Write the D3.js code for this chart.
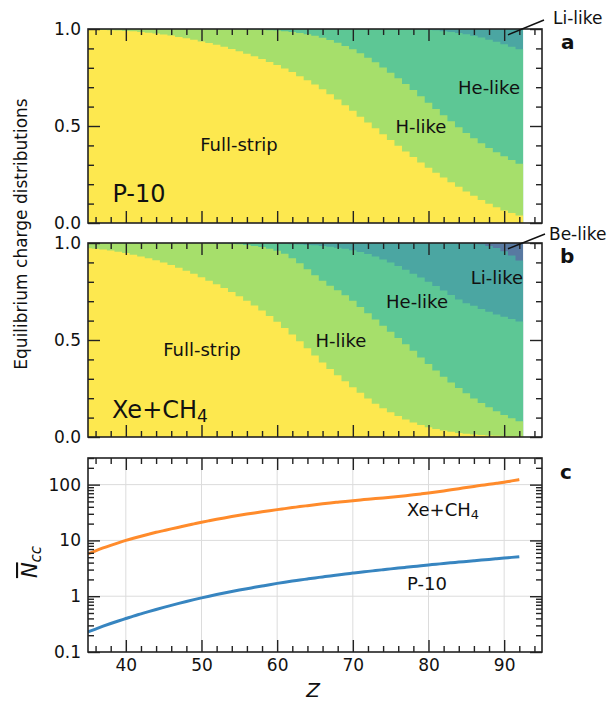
<!DOCTYPE html>
<html><head><meta charset="utf-8">
<script src="https://cdn.jsdelivr.net/npm/d3@7"></script>
<style>
body{margin:0;background:#fff}
text{font-family:"DejaVu Sans",sans-serif;fill:#111}
</style>
</head><body>
<svg id="chart" width="614" height="705"></svg>
<script>
// ---------------- DATA ----------------
const zValues = [35,36,37,38,39,40,41,42,43,44,45,46,47,48,49,50,51,52,53,54,55,56,57,58,59,60,61,62,63,64,65,66,67,68,69,70,71,72,73,74,75,76,77,78,79,80,81,82,83,84,85,86,87,88,89,90,91,92];

// Panel a (P-10): cumulative fractions (upper edge of each charge-state band)
const p10CumFullStrip = [.997,.996,.995,.994,.992,.990,.988,.985,.981,.977,.972,.966,.959,.952,.944,.935,.928,.919,.908,.897,.885,.872,.859,.845,.830,.814,.797,.778,.757,.736,.714,.690,.664,.636,.607,.578,.548,.518,.488,.458,.428,.398,.369,.340,.312,.285,.259,.234,.210,.187,.163,.140,.119,.099,.081,.065,.051,.039];
const p10CumHlike = [1,1,1,1,1,1,1,1,1,1,1,1,1,1,1,1,.999,.999,.999,.999,.999,.998,.997,.996,.994,.992,.989,.985,.980,.973,.965,.955,.943,.929,.913,.895,.875,.852,.828,.802,.775,.746,.716,.685,.653,.620,.588,.556,.524,.493,.464,.437,.411,.387,.365,.344,.325,.305];
const p10CumHelike = [1,1,1,1,1,1,1,1,1,1,1,1,1,1,1,1,1,1,1,1,1,1,1,1,1,1,1,1,1,1,1,1,1,1,1,1,1,1,1,1,1,.999,.999,.998,.997,.995,.993,.989,.985,.979,.973,.965,.956,.945,.934,.922,.909,.895];

// Panel b (Xe+CH4)
const xeCumFullStrip = [.973,.970,.966,.961,.955,.948,.940,.931,.922,.911,.899,.886,.872,.857,.841,.823,.806,.788,.768,.747,.725,.702,.678,.652,.624,.594,.562,.528,.493,.457,.420,.384,.350,.318,.287,.257,.228,.199,.172,.148,.127,.108,.090,.075,.062,.050,.041,.033,.027,.021,.017,.013,.010,.008,.006,.005,.004,.003];
const xeCumHlike = [1,1,1,1,1,1,1,1,1,1,1,1,1,1,1,1,.999,.998,.997,.995,.993,.990,.985,.979,.971,.960,.945,.922,.895,.865,.834,.806,.780,.757,.731,.702,.670,.638,.606,.574,.542,.510,.478,.444,.410,.376,.343,.311,.281,.252,.225,.199,.175,.153,.133,.114,.097,.081];
const xeCumHelike = [1,1,1,1,1,1,1,1,1,1,1,1,1,1,1,1,1,1,1,1,1,1,1,1,.999,.998,.996,.994,.992,.990,.988,.985,.981,.976,.970,.963,.954,.943,.930,.915,.899,.881,.862,.842,.822,.800,.778,.755,.732,.709,.690,.676,.660,.645,.632,.620,.608,.596];
const xeCumLilike = [1,1,1,1,1,1,1,1,1,1,1,1,1,1,1,1,1,1,1,1,1,1,1,1,1,1,1,1,1,1,1,1,1,1,1,1,1,1,1,1,1,1,1,1,1,1,1,1,1,1,.999,.997,.993,.985,.974,.958,.935,.910];

// Panel c: mean number of charge-changing collisions
const nccP10 = [.229,.258,.290,.324,.360,.398,.440,.483,.530,.579,.631,.685,.743,.804,.867,.933,1.000,1.069,1.140,1.213,1.288,1.365,1.442,1.524,1.611,1.698,1.782,1.866,1.950,2.037,2.128,2.218,2.312,2.404,2.500,2.594,2.692,2.786,2.884,2.985,3.090,3.192,3.296,3.404,3.516,3.631,3.741,3.855,3.972,4.093,4.207,4.325,4.446,4.571,4.699,4.831,4.966,5.105];
const nccXe = [5.73,6.52,7.33,8.17,9.06,10.0,10.94,11.91,12.91,13.96,15.0,16.11,17.26,18.49,19.77,21.13,22.49,23.88,25.29,26.73,28.18,29.65,31.12,32.58,34.12,35.65,37.15,38.73,40.36,41.98,43.65,45.29,46.88,48.42,50.0,51.64,53.21,54.70,56.23,57.81,59.57,61.38,63.39,65.61,68.08,70.79,73.79,77.09,80.72,84.53,88.72,92.90,97.05,101.4,105.9,110.7,116.7,123.3];

// Ticks
const xMajorTicks = [40,50,60,70,80,90];
const xMinorTicks = [36,38,42,44,46,48,52,54,56,58,62,64,66,68,72,74,76,78,82,84,86,88,92,94];
const fracMajorTicks = [0,0.5,1];
const fracTickLabels = ["0.0","0.5","1.0"];
const fracMinorTicks = [0.1,0.2,0.3,0.4,0.6,0.7,0.8,0.9];
const logMajorTicks = [0.1,1,10,100];
const logTickLabels = ["0.1","1","10","100"];
const logMinorTicks = [0.2,0.3,0.4,0.5,0.6,0.7,0.8,0.9,2,3,4,5,6,7,8,9,20,30,40,50,60,70,80,90,200,300];

const colors = {full:"#fde84f", h:"#a6df6b", he:"#5dc795", li:"#4ba6a2", be:"#5879a1"};

// ---------------- DRAW ----------------
const svg = d3.select("#chart");
const L = 88, R = 542;
const x = d3.scaleLinear().domain([35,95]).range([L,R]);

function stepPoints(vals){
  return zValues.flatMap((z,i)=>[{z:z-0.5,v:vals[i]},{z:z+0.5,v:vals[i]}]);
}

function frame(g, y, top, bottom, yMajor, yLabels, yMinor, showXLabels){
  g.append("g").attr("transform",`translate(0,${bottom})`)
    .call(d3.axisBottom(x).tickValues(xMajorTicks).tickSize(-12).tickPadding(7)
      .tickFormat(showXLabels ? d3.format("d") : ""));
  g.append("g").attr("transform",`translate(0,${bottom})`)
    .call(d3.axisBottom(x).tickValues(xMinorTicks).tickSize(-6).tickFormat(""));
  g.append("g").attr("transform",`translate(0,${top})`)
    .call(d3.axisTop(x).tickValues(xMajorTicks).tickSize(-12).tickFormat(""));
  g.append("g").attr("transform",`translate(0,${top})`)
    .call(d3.axisTop(x).tickValues(xMinorTicks).tickSize(-6).tickFormat(""));
  g.append("g").attr("transform",`translate(${L},0)`)
    .call(d3.axisLeft(y).tickValues(yMajor).tickSize(-12).tickPadding(7)
      .tickFormat((d,i)=>yLabels[i]));
  g.append("g").attr("transform",`translate(${L},0)`)
    .call(d3.axisLeft(y).tickValues(yMinor).tickSize(-6).tickFormat(""));
  g.append("g").attr("transform",`translate(${R},0)`)
    .call(d3.axisRight(y).tickValues(yMajor).tickSize(-12).tickFormat(""));
  g.append("g").attr("transform",`translate(${R},0)`)
    .call(d3.axisRight(y).tickValues(yMinor).tickSize(-6).tickFormat(""));
  g.selectAll(".domain").remove();
  g.selectAll(".tick line").attr("stroke","#222").attr("stroke-width",1.4);
  g.selectAll(".tick text").attr("font-size",17).attr("fill","#111")
    .style("font-family",'"DejaVu Sans",sans-serif');
  g.append("rect").attr("x",L).attr("y",top).attr("width",R-L).attr("height",bottom-top)
    .attr("fill","none").attr("stroke","#222").attr("stroke-width",1.6);
}

function stackPanel(top, bottom, layers, id){
  const y = d3.scaleLinear().domain([0,1]).range([bottom,top]);
  const g = svg.append("g");
  g.append("clipPath").attr("id",id).append("rect")
    .attr("x",L).attr("y",top).attr("width",R-L).attr("height",bottom-top);
  const area = d3.area().x(d=>x(d.z)).y0(y(0)).y1(d=>y(d.v));
  const cg = g.append("g").attr("clip-path",`url(#${id})`);
  layers.forEach(l=>{
    cg.append("path").datum(stepPoints(l.vals)).attr("d",area).attr("fill",l.color);
  });
  frame(g, y, top, bottom, fracMajorTicks, fracTickLabels, fracMinorTicks, false);
  return {g,y};
}

const ones = zValues.map(()=>1);
const pa = stackPanel(29, 223, [
  {vals:ones, color:colors.li},
  {vals:p10CumHelike, color:colors.he},
  {vals:p10CumHlike, color:colors.h},
  {vals:p10CumFullStrip, color:colors.full}
], "clipA");
const pb = stackPanel(243, 437, [
  {vals:ones, color:colors.be},
  {vals:xeCumLilike, color:colors.li},
  {vals:xeCumHelike, color:colors.he},
  {vals:xeCumHlike, color:colors.h},
  {vals:xeCumFullStrip, color:colors.full}
], "clipB");

// Panel c
const cTop = 458, cBottom = 652;
const yc = d3.scaleLog().domain([0.1,300]).range([cBottom,cTop]);
const gc = svg.append("g");
gc.append("g").selectAll("line").data(xMajorTicks).join("line")
  .attr("x1",d=>x(d)).attr("x2",d=>x(d)).attr("y1",cTop).attr("y2",cBottom)
  .attr("stroke","#dcdcdc").attr("stroke-width",1);
gc.append("g").selectAll("line").data(logMajorTicks.slice(1)).join("line")
  .attr("x1",L).attr("x2",R).attr("y1",d=>yc(d)).attr("y2",d=>yc(d))
  .attr("stroke","#dcdcdc").attr("stroke-width",1);
gc.append("clipPath").attr("id","clipC").append("rect")
  .attr("x",L).attr("y",cTop).attr("width",R-L).attr("height",cBottom-cTop);
const line = d3.line().x((d,i)=>x(zValues[i])).y(d=>yc(d)).curve(d3.curveMonotoneX);
const lg = gc.append("g").attr("clip-path","url(#clipC)");
lg.append("path").datum(nccXe).attr("d",line).attr("fill","none")
  .attr("stroke","#ff8b2b").attr("stroke-width",3);
lg.append("path").datum(nccP10).attr("d",line).attr("fill","none")
  .attr("stroke","#3785c0").attr("stroke-width",3);
frame(gc, yc, cTop, cBottom, logMajorTicks, logTickLabels, logMinorTicks, true);

// ---------------- TEXT ----------------
function label(t, px, py, size){
  return svg.append("text").attr("x",px).attr("y",py).attr("font-size",size)
    .attr("text-anchor","middle").attr("dominant-baseline","central").text(t);
}
// panel a
label("Full-strip", 239, 144, 18);
label("H-like", 421, 126, 18);
label("He-like", 489, 87, 18);
label("P-10", 139, 194, 24);
// panel b
label("Full-strip", 202, 349, 18);
label("H-like", 341, 340, 18);
label("He-like", 417, 301, 18);
label("Li-like", 497, 277, 18);
const xeB = svg.append("text").attr("x",112).attr("y",418).attr("font-size",24);
xeB.append("tspan").text("Xe+CH");
xeB.append("tspan").attr("font-size",17).attr("dy",4).text("4");
// panel c
const xeC = svg.append("text").attr("x",407).attr("y",516).attr("font-size",18);
xeC.append("tspan").text("Xe+CH");
xeC.append("tspan").attr("font-size",13).attr("dy",3).text("4");
svg.append("text").attr("x",407).attr("y",590).attr("font-size",18).text("P-10");

// annotations outside the frame
svg.append("line").attr("x1",x(90.5)).attr("y1",pa.y(0.97)).attr("x2",544).attr("y2",20)
  .attr("stroke","#111").attr("stroke-width",1.5);
svg.append("text").attr("x",553).attr("y",24).attr("font-size",17).text("Li-like");
svg.append("line").attr("x1",x(90.5)).attr("y1",pb.y(0.97)).attr("x2",545).attr("y2",234)
  .attr("stroke","#111").attr("stroke-width",1.5);
svg.append("text").attr("x",549).attr("y",240).attr("font-size",17).text("Be-like");

// panel letters
svg.append("text").attr("x",561).attr("y",49).attr("font-size",20).attr("font-weight","bold").text("a");
svg.append("text").attr("x",560).attr("y",263).attr("font-size",20).attr("font-weight","bold").text("b");
svg.append("text").attr("x",560).attr("y",479).attr("font-size",20).attr("font-weight","bold").text("c");

// axis labels
svg.append("text").attr("transform","translate(21,234) rotate(-90)").attr("text-anchor","middle")
  .attr("dominant-baseline","central").attr("font-size",17).text("Equilibrium charge distributions");
svg.append("text").attr("x",313).attr("y",697).attr("text-anchor","middle").attr("font-size",20)
  .attr("font-style","italic").text("Z");
const nl = svg.append("text").attr("transform","translate(37,562) rotate(-90)").attr("text-anchor","middle").attr("font-size",21);
nl.append("tspan").attr("font-style","italic").attr("text-decoration","overline").text("N");
nl.append("tspan").attr("font-style","italic").attr("font-size",15).attr("dy",4).text("cc");
</script>
</body></html>
